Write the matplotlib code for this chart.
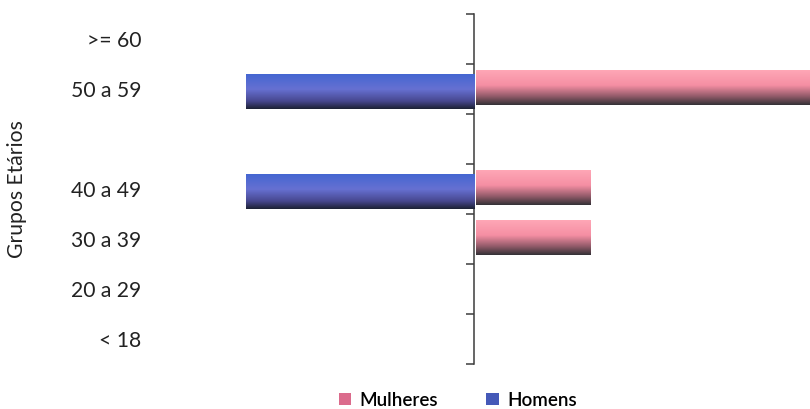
import numpy as np
import matplotlib
matplotlib.use("Agg")
import matplotlib.pyplot as plt
from matplotlib.colors import LinearSegmentedColormap
from matplotlib.patches import Patch

plt.rcParams['font.family'] = ['Lato', 'DejaVu Sans']

# Age groups, bottom to top (one unnamed group between 40 a 49 and 50 a 59)
categories = ['< 18', '20 a 29', '30 a 39', '40 a 49', ' ', '50 a 59', '>= 60']
mulheres = [0, 0, 1, 1, 0, 3, 0]
homens = [0, 0, 0, 2, 0, 2, 0]

pink_cmap = LinearSegmentedColormap.from_list(
    'pink_shade',
    [(0.0, (1.00, 0.66, 0.72)), (0.45, (0.96, 0.56, 0.64)),
     (0.75, (0.58, 0.36, 0.42)), (1.0, (0.20, 0.19, 0.21))])
blue_cmap = LinearSegmentedColormap.from_list(
    'blue_shade',
    [(0.0, (0.26, 0.40, 0.82)), (0.45, (0.40, 0.44, 0.82)),
     (0.78, (0.28, 0.28, 0.56)), (1.0, (0.11, 0.13, 0.20))])

fig = plt.figure(figsize=(8.10, 4.09), dpi=100)
ax = fig.add_axes([0.185, 0.110, 0.815, 0.856])

xmin, xmax = -2.84, 2.95
ax.set_xlim(xmin, xmax)
ax.set_ylim(-0.5, len(categories) - 0.5)

y = np.arange(len(categories))
bar_h = 0.7
bars_m = ax.barh(y + 0.03, mulheres, height=bar_h, color='none', left=0.02)
bars_h = ax.barh(y - 0.06, [-v for v in homens], height=bar_h, color='none')

grad = np.linspace(0, 1, 256).reshape(-1, 1)
for bars, cmap in ((bars_m, pink_cmap), (bars_h, blue_cmap)):
    for p in bars:
        if p.get_width() == 0:
            continue
        x0, y0 = p.get_x(), p.get_y()
        x1, y1 = x0 + p.get_width(), y0 + p.get_height()
        im = ax.imshow(grad, cmap=cmap, aspect='auto',
                       extent=(min(x0, x1), max(x0, x1), y0, y1),
                       origin='upper', zorder=2)
        im.set_clip_path(p)

ax.set_xlim(xmin, xmax)
ax.set_ylim(-0.5, len(categories) - 0.5)

# Category labels on the left, no tick marks there
ax.set_yticks(y, categories)
ax.tick_params(axis='y', length=0, pad=6, labelsize=15.2, labelcolor='#222222')
ax.set_xticks([])
for s in ax.spines.values():
    s.set_visible(False)
ax.set_ylabel('Grupos Etários', fontsize=15.2, color='#222222', labelpad=32)

# Central vertical axis with tick marks between groups
frac = (0 - xmin) / (xmax - xmin)
sec = ax.secondary_yaxis(frac)
sec.set_yticks(np.arange(-0.5, len(categories), 1.0))
sec.set_yticklabels([])
sec.tick_params(axis='y', direction='out', length=5.5, width=1.1, color='#3c3c3c')
sec.spines['left'].set_color('#3c3c3c')
sec.spines['left'].set_linewidth(1.1)

handles = [Patch(facecolor=(0.86, 0.42, 0.55), label='Mulheres'),
           Patch(facecolor=(0.27, 0.35, 0.72), label='Homens')]
fig.legend(handles=handles, loc='center', bbox_to_anchor=(0.565, 0.022),
           ncol=2, frameon=False, handlelength=0.65, handleheight=0.6,
           handletextpad=0.45, columnspacing=2.6,
           prop={'family': ['Lato', 'DejaVu Sans'], 'size': 13.5,
                 'weight': 'semibold'})

fig.savefig('out.png', dpi=100)
